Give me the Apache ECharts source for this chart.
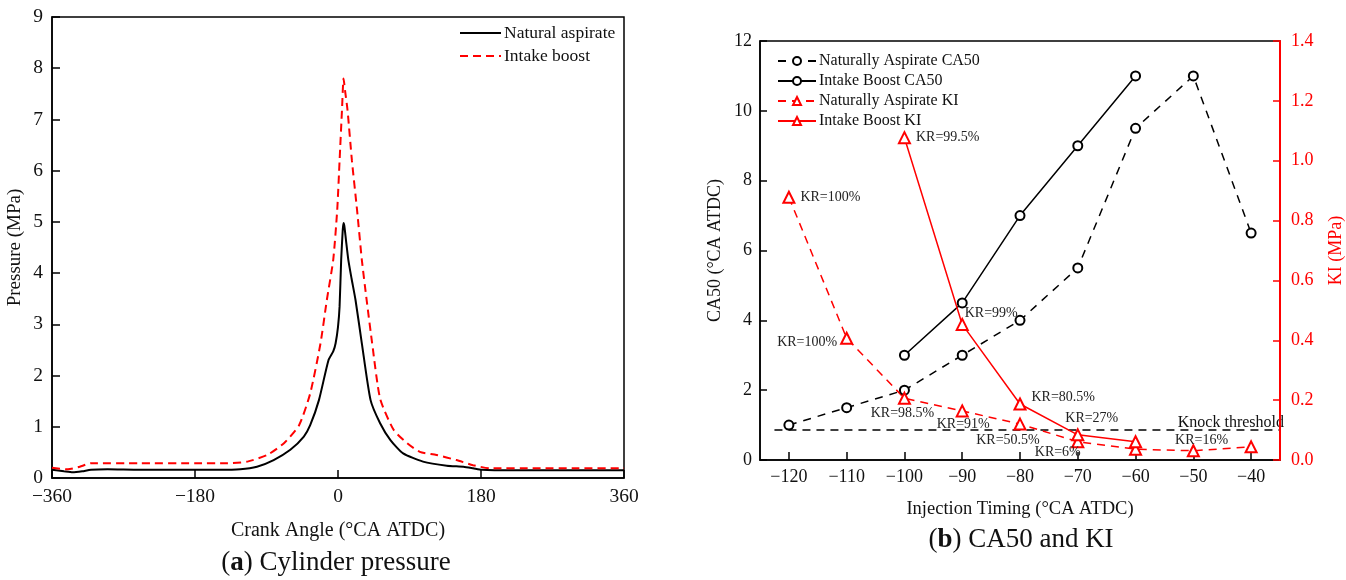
<!DOCTYPE html>
<html><head><meta charset="utf-8">
<script src="https://cdn.jsdelivr.net/npm/echarts@6/dist/echarts.min.js"></script>
<style>html,body{margin:0;padding:0;background:#fff}#c{width:1346px;height:580px}</style>
</head><body><div id="c"></div>
<script>
// ---- (a) Cylinder pressure ----
const naAngle    = [-360,-345,-334,-322,-311,-290,-250,-200,-150,-123,-102,-81,-60,-43,-35,-24,-12,-6,-3,0,2,4,6,7,8,10,13,17,22,30,41,53,66,82,107,137,158,170,181,220,270,320,360];
const naPressure = [0.16,0.13,0.11,0.13,0.16,0.17,0.16,0.16,0.16,0.17,0.22,0.35,0.55,0.81,1.03,1.52,2.30,2.47,2.63,2.95,3.35,4.26,4.85,4.98,4.92,4.65,4.26,3.90,3.48,2.63,1.52,1.07,0.74,0.48,0.32,0.24,0.22,0.19,0.16,0.15,0.15,0.15,0.15];
const ibAngle    = [-360,-340,-325,-311,-250,-180,-139,-114,-89,-68,-49,-35,-22,-14,-6,-1,2,5,7,9,12,17.5,24,30,36,43,53,70,87,103,124,149,170,191,250,300,360];
const ibPressure = [0.20,0.17,0.22,0.29,0.29,0.29,0.29,0.32,0.45,0.68,1.03,1.65,2.63,3.48,4.26,5.23,6.20,7.18,7.80,7.55,7.18,6.20,5.23,4.26,3.48,2.63,1.55,0.94,0.68,0.51,0.45,0.35,0.25,0.19,0.19,0.19,0.19];

// ---- (b) CA50 and KI ----
const injTiming = [-120,-110,-100,-90,-80,-70,-60,-50,-40];
const naCA50    = [1.0,1.5,2.0,3.0,4.0,5.5,9.5,11.0,6.5];
const naKI      = [0.878,0.407,0.206,0.164,0.120,0.061,0.036,0.031,0.044];
const naKR      = ['KR=100%','KR=100%','KR=98.5%','KR=91%','KR=50.5%','KR=6%',null,null,null];
const ibTiming  = [-100,-90,-80,-70,-60];
const ibCA50    = [3.0,4.5,7.0,9.0,11.0];
const ibKI      = [1.077,0.453,0.187,0.084,0.061];
const ibKR      = ['KR=99.5%','KR=99%','KR=80.5%','KR=27%','KR=16%'];
const knockThreshold = 0.1;
const knockRange = [-122.5,-35];
const injTicks = [-120,-110,-100,-90,-80,-70,-60,-50,-40];

// label placement (style only)
const naKRPlace = [
  {position:'right', offset:[0,0]},
  {position:'left', offset:[2,4]},
  {position:'bottom', offset:[-2,-4]},
  {position:'bottom', offset:[1,-5]},
  {position:'bottom', offset:[-12,-2]},
  {position:'bottom', offset:[-20,-8]},
  null,null,null
];
const ibKRPlace = [
  {position:'right', offset:[0,0]},
  {position:'right', offset:[-9,-11]},
  {position:'right', offset:[0,-7]},
  {position:'top', offset:[14,2]},
  {position:'right', offset:[28,-1]}
];

const SERIF = '"Liberation Serif", "Times New Roman", serif';
const RED = '#ff0000';
const minus = v => String(v).replace('-', '\u2212');

function zip(xs, ys){ return xs.map((x,i)=>[x, ys[i]]); }
function withLabels(xs, ys, texts, places){
  return xs.map((x,i)=>{
    const item = {value:[x, ys[i]]};
    if (texts[i]) {
      item.label = Object.assign({show:true, formatter:texts[i], fontFamily:SERIF, fontSize:14, color:'#222', distance:5}, places[i]);
    }
    return item;
  });
}

const chart = echarts.init(document.getElementById('c'), null, {renderer:'canvas'});
const option = {
  animation:false,
  backgroundColor:'#fff',
  textStyle:{fontFamily:SERIF},
  grid:[
    {left:52, right:722, top:17, bottom:102, show:true, borderColor:'#000', borderWidth:1.5, backgroundColor:'transparent'},
    {left:760, right:65, top:41, bottom:120, show:true, borderColor:'#000', borderWidth:1.5, backgroundColor:'transparent'}
  ],
  legend:[
    {data:['Natural aspirate','Intake boost'], orient:'vertical', left:459, top:24, padding:0, itemWidth:41, itemHeight:10, itemGap:5,
     itemStyle:{opacity:0},
     textStyle:{fontFamily:SERIF, fontSize:17.5, color:'#111', padding:[0,0,0,-2]}},
    {data:['Naturally Aspirate CA50','Intake Boost CA50','Naturally Aspirate KI','Intake Boost KI'], orient:'vertical', left:777, top:53, padding:0, itemWidth:38, itemHeight:10, itemGap:4,
     textStyle:{fontFamily:SERIF, fontSize:16, color:'#111', padding:[0,0,0,-2]}}
  ],
  xAxis:[
    {gridIndex:0, type:'value', min:-360, max:360, interval:180,
     name:'Crank Angle (°CA ATDC)', nameLocation:'middle', nameGap:43,
     nameTextStyle:{fontFamily:SERIF, fontSize:20, color:'#111'},
     axisLine:{onZero:false, lineStyle:{color:'#000', width:1.5}},
     axisTick:{inside:true, length:8, lineStyle:{color:'#000', width:1.5}},
     axisLabel:{fontFamily:SERIF, fontSize:19.5, color:'#111', margin:9, formatter:minus},
     splitLine:{show:false}},
    {gridIndex:1, type:'value', min:-125, max:-35,
     name:'Injection Timing (°CA ATDC)', nameLocation:'middle', nameGap:40,
     nameTextStyle:{fontFamily:SERIF, fontSize:18.5, color:'#111'},
     axisLine:{onZero:false, lineStyle:{color:'#000', width:1.5}},
     axisTick:{inside:true, length:8, customValues:injTicks, lineStyle:{color:'#000', width:1.5}},
     axisLabel:{fontFamily:SERIF, fontSize:18, color:'#111', margin:8, customValues:injTicks, formatter:minus},
     splitLine:{show:false}}
  ],
  yAxis:[
    {gridIndex:0, type:'value', min:0, max:9, interval:1,
     name:'Pressure (MPa)', nameLocation:'middle', nameGap:27, nameRotate:90,
     nameTextStyle:{fontFamily:SERIF, fontSize:19, color:'#111'},
     axisLine:{show:true, onZero:false, lineStyle:{color:'#000', width:1.5}},
     axisTick:{show:true, inside:true, length:8, lineStyle:{color:'#000', width:1.5}},
     axisLabel:{fontFamily:SERIF, fontSize:19.5, color:'#111', margin:9},
     splitLine:{show:false}},
    {gridIndex:1, type:'value', min:0, max:12, interval:2, position:'left',
     name:'CA50 (°CA ATDC)', nameLocation:'middle', nameGap:36, nameRotate:90,
     nameTextStyle:{fontFamily:SERIF, fontSize:18, color:'#111'},
     axisLine:{show:true, onZero:false, lineStyle:{color:'#000', width:1.5}},
     axisTick:{show:true, inside:true, length:7, lineStyle:{color:'#000', width:1.5}},
     axisLabel:{fontFamily:SERIF, fontSize:18, color:'#111', margin:8},
     splitLine:{show:false}},
    {gridIndex:1, type:'value', min:0, max:1.4, interval:0.2, position:'right',
     name:'KI (MPa)', nameLocation:'middle', nameGap:47, nameRotate:90,
     nameTextStyle:{fontFamily:SERIF, fontSize:18, color:RED},
     axisLine:{show:true, onZero:false, lineStyle:{color:RED, width:2}},
     axisTick:{show:true, inside:true, length:7, lineStyle:{color:RED, width:1.5}},
     axisLabel:{fontFamily:SERIF, fontSize:18, color:RED, margin:11, formatter:v=>v.toFixed(1)},
     splitLine:{show:false}, z:5}
  ],
  series:[
    {name:'Natural aspirate', type:'line', xAxisIndex:0, yAxisIndex:0, data:zip(naAngle, naPressure),
     symbol:'none', smooth:0.2, lineStyle:{color:'#000', width:2}, itemStyle:{color:'#000'}},
    {name:'Intake boost', type:'line', xAxisIndex:0, yAxisIndex:0, data:zip(ibAngle, ibPressure),
     symbol:'none', smooth:0.2, lineStyle:{color:RED, width:2, type:[8,5]}, itemStyle:{color:RED}},

    {name:'Naturally Aspirate CA50', type:'line', xAxisIndex:1, yAxisIndex:1, data:zip(injTiming, naCA50),
     symbol:'emptyCircle', symbolSize:9, lineStyle:{color:'#000', width:1.5, type:[8,7]}, itemStyle:{color:'#000', borderWidth:1.3}},
    {name:'Intake Boost CA50', type:'line', xAxisIndex:1, yAxisIndex:1, data:zip(ibTiming, ibCA50),
     symbol:'emptyCircle', symbolSize:9, lineStyle:{color:'#000', width:1.5}, itemStyle:{color:'#000', borderWidth:1.3}},
    {name:'Naturally Aspirate KI', type:'line', xAxisIndex:1, yAxisIndex:2, data:withLabels(injTiming, naKI, naKR, naKRPlace),
     symbol:'emptyTriangle', symbolSize:11, lineStyle:{color:RED, width:1.5, type:[8,6]}, itemStyle:{color:RED, borderWidth:1.3}},
    {name:'Intake Boost KI', type:'line', xAxisIndex:1, yAxisIndex:2, data:withLabels(ibTiming, ibKI, ibKR, ibKRPlace),
     symbol:'emptyTriangle', symbolSize:11, lineStyle:{color:RED, width:1.5}, itemStyle:{color:RED, borderWidth:1.3}},
    {name:'Knock threshold', type:'line', xAxisIndex:1, yAxisIndex:2, silent:true,
     data:[{value:[knockRange[0], knockThreshold]},
           {value:[knockRange[1], knockThreshold], label:{show:true, formatter:'Knock threshold', position:'top', align:'right', offset:[4,6], fontFamily:SERIF, fontSize:16, color:'#111'}}],
     symbol:'circle', symbolSize:0.1, itemStyle:{color:'rgba(0,0,0,0)'}, lineStyle:{color:'#000', width:1.5, type:[8,6]}, z:1}
  ],
  graphic:[
    {type:'text', x:336, y:563, style:{text:'{n|(}{b|a}{n|) Cylinder pressure}', align:'center', verticalAlign:'middle',
      rich:{n:{fontFamily:SERIF, fontSize:27, fill:'#111'}, b:{fontFamily:SERIF, fontSize:27, fontWeight:'bold', fill:'#111'}}}},
    {type:'text', x:1021, y:540, style:{text:'{n|(}{b|b}{n|) CA50 and KI}', align:'center', verticalAlign:'middle',
      rich:{n:{fontFamily:SERIF, fontSize:27, fill:'#111'}, b:{fontFamily:SERIF, fontSize:27, fontWeight:'bold', fill:'#111'}}}}
  ]
};
chart.setOption(option);
</script>
</body></html>
